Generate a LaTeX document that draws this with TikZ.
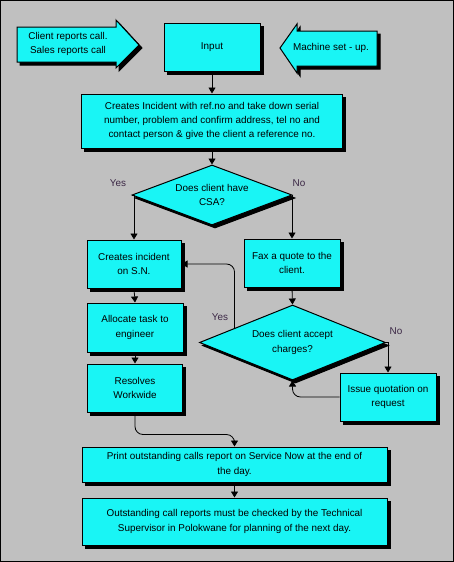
\documentclass[tikz,border=0pt]{standalone}
\usepackage{fontspec}
\setmainfont{Liberation Sans}
\usetikzlibrary{shapes.geometric,arrows.meta,calc}
\definecolor{boxcyan}{RGB}{25,245,245}
\definecolor{panelgray}{RGB}{192,192,192}
\definecolor{labeldark}{RGB}{60,40,70}
\tikzset{
  shade3/.style={preaction={draw=black,fill=black,line width=1pt,transform canvas={xshift=3pt,yshift=-3pt}}},
  smalltext/.style={font=\fontsize{9.9}{14.3}\selectfont},
  cyanshape/.style={draw=black,line width=1pt,fill=boxcyan,shade3},
  cyanbox/.style={cyanshape,rectangle,inner sep=0pt,align=center,smalltext},
  decision/.style={cyanshape,diamond,inner sep=0pt,align=center,smalltext},
  plain/.style={inner sep=0pt,align=center,smalltext},
  yesno/.style={inner sep=0pt,text=labeldark,smalltext},
  flow/.style={line width=0.8pt,-{Triangle[width=7pt,length=6pt]}}
}
\begin{document}
\begin{tikzpicture}[x=1pt,y=-1pt]
  % Background panel
  \useasboundingbox (0,0) rectangle (454,562);
  \draw[fill=panelgray,line width=1pt] (0.5,0.5) rectangle (453.5,561.5);
  % Incoming calls (block arrows)
  \draw[cyanshape] (17,27) -- (116,27) -- (116,20) -- (139,45) -- (116,68) -- (116,62) -- (17,62) -- cycle;
  \node[plain] (clientcall) at (68,44) {Client reports call.\\Sales reports call};
  \draw[cyanshape] (377,31) -- (297,31) -- (297,24) -- (280,48) -- (297,73) -- (297,66) -- (377,66) -- cycle;
  \node[plain] (setup) at (331,48) {Machine set - up.};
  % Main column
  \node[cyanbox,minimum width=96pt,minimum height=48pt] (input) at (212,47) {Input};
  \node[cyanbox,minimum width=261pt,minimum height=54pt] (incident) at (212,121)
    {Creates Incident with ref.no and take down serial\\number, problem and confirm address, tel no and\\contact person \& give the client a reference no.};
  \node[decision,aspect=2.65,minimum width=160pt,minimum height=60pt] (csa) at (212,195) {Does client have\\CSA?};
  % Left branch
  \node[cyanbox,minimum width=94pt,minimum height=48pt] (createsn) at (134,264) {Creates incident\\on S.N.};
  \node[cyanbox,minimum width=96pt,minimum height=49pt] (allocate) at (135,327.5) {Allocate task to\\engineer};
  \node[cyanbox,minimum width=95pt,minimum height=48pt] (resolves) at (135,388) {Resolves\\Workwide};
  % Right branch
  \node[cyanbox,minimum width=96pt,minimum height=48pt] (fax) at (292,263) {Fax a quote to the\\client.};
  \node[decision,aspect=2.47,minimum width=186pt,minimum height=75pt] (accept) at (292.5,342.5) {Does client accept\\charges?};
  \node[cyanbox,minimum width=96pt,minimum height=48pt] (issue) at (388,397) {Issue quotation on\\request};
  % Reports
  \node[cyanbox,minimum width=305pt,minimum height=35pt] (print) at (234.5,464.5)
    {Print outstanding calls report on Service Now at the end of\\the day.};
  \node[cyanbox,minimum width=305pt,minimum height=47pt] (outstanding) at (234.5,521.5)
    {Outstanding call reports must be checked by the Technical\\Supervisor in Polokwane for planning of the next day.};
  % Labels
  \node[yesno] (yes1) at (118,183) {Yes};
  \node[yesno] (no1) at (299,183) {No};
  \node[yesno] (yes2) at (220,317) {Yes};
  \node[yesno] (no2) at (396,331) {No};
  % Connectors
  \draw[flow] (input.south) -- (incident.north);
  \draw[flow] (incident.south) -- (csa.north);
  \draw[flow] (csa.west) -| (createsn.north);
  \draw[flow] (csa.east) -| (fax.north);
  \draw[flow] (createsn.south) -- (allocate.north);
  \draw[flow] (allocate.south) -- (resolves.north);
  \draw[flow] (fax.south) -- (accept.north);
  \draw[flow,rounded corners=8pt] ($(accept.west)!0.38!(accept.north)$) |- (createsn.east);
  \draw[flow] (accept.east) -| (issue.north);
  \draw[flow,rounded corners=8pt] (issue.west) -| (accept.south);
  \draw[flow,rounded corners=8pt] (resolves.south) -- ++(0,22) -| (print.north);
  \draw[flow] (print.south) -- (outstanding.north);
\end{tikzpicture}
\end{document}
